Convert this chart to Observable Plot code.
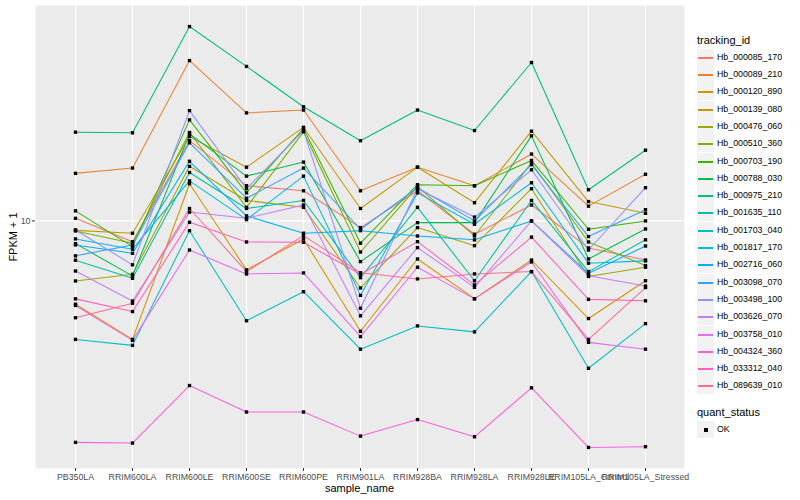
<!DOCTYPE html>
<html><head><meta charset="utf-8">
<script src="https://cdn.jsdelivr.net/npm/d3@7"></script>
<script src="https://cdn.jsdelivr.net/npm/@observablehq/plot@0.6"></script>
<style>
body{margin:0;background:#fff;font-family:"Liberation Sans",Arial,sans-serif;}
#wrap{position:relative;width:800px;height:500px;overflow:hidden;}
.t{position:absolute;white-space:nowrap;color:#000;line-height:1;}
.key{position:absolute;width:17px;height:17px;background:#F2F2F2;}
.key .ln{position:absolute;left:1px;right:1px;top:8px;height:1.5px;}
.lab{position:absolute;font-size:8.8px;color:#000;white-space:nowrap;line-height:1;}
</style></head><body><div id="wrap"></div>
<script>
const samples = ["PB350LA","RRIM600LA","RRIM600LE","RRIM600SE","RRIM600PE","RRIM901LA","RRIM928BA","RRIM928LA","RRIM928LE","RRIM105LA_Control","RRIM105LA_Stressed"];
const trackingIds = ["Hb_000085_170","Hb_000089_210","Hb_000120_890","Hb_000139_080","Hb_000476_060","Hb_000510_360","Hb_000703_190","Hb_000788_030","Hb_000975_210","Hb_001635_110","Hb_001703_040","Hb_001817_170","Hb_002716_060","Hb_003098_070","Hb_003498_100","Hb_003626_070","Hb_003758_010","Hb_004324_360","Hb_033312_040","Hb_089639_010"];
const palette = ["#F8766D","#EA8331","#D89000","#C09B00","#A3A500","#7CAE00","#39B600","#00BB4E","#00BF7D","#00C1A3","#00BFC4","#00BAE0","#00B0F6","#35A2FF","#9590FF","#C77CFF","#E76BF3","#FA62DB","#FF62BC","#FF6C91"];
const quantStatus = ["OK"];

// FPKM + 1 per sample (order of samples)
const hb_000085_170 = [10.2, 8.53, 18.5, 13.1, 12.6, 9.50, 12.6, 9.03, 11.3, 8.13, 7.41];
const hb_000089_210 = [14.4, 15.0, 34.2, 22.9, 23.4, 12.6, 15.1, 13.1, 16.7, 11.2, 14.3];
const hb_000120_890 = [5.28, 4.03, 13.3, 6.87, 8.71, 4.29, 7.47, 5.51, 7.41, 4.73, 6.32];
const hb_000139_080 = [9.30, 9.10, 19.1, 15.1, 20.5, 11.0, 15.1, 11.5, 19.9, 11.6, 10.6];
const hb_000476_060 = [6.31, 6.64, 15.2, 11.7, 11.1, 5.98, 9.50, 8.27, 12.8, 6.53, 7.01];
const hb_000510_360 = [9.26, 8.43, 19.7, 11.1, 19.8, 7.88, 13.0, 8.91, 15.6, 8.51, 7.10];
const hb_000703_190 = [10.8, 8.21, 21.7, 12.4, 20.3, 8.43, 13.2, 13.1, 15.9, 9.38, 10.0];
const hb_000788_030 = [8.40, 6.56, 19.5, 14.1, 15.7, 7.32, 9.87, 9.87, 19.2, 7.47, 9.40];
const hb_000975_210 = [19.75, 19.65, 44.4, 32.7, 24.0, 18.5, 23.4, 20.0, 33.7, 12.7, 17.2];
const hb_001635_110 = [7.40, 6.44, 14.5, 11.0, 11.7, 6.47, 11.1, 6.32, 11.7, 6.78, 8.65];
const hb_001703_040 = [4.03, 3.85, 9.28, 4.65, 5.81, 3.74, 4.47, 4.27, 6.78, 3.23, 4.55];
const hb_001817_170 = [8.71, 8.05, 13.6, 10.1, 14.1, 5.65, 12.4, 9.75, 13.4, 7.23, 7.36];
const hb_002716_060 = [8.32, 7.80, 15.8, 10.4, 9.10, 9.28, 8.91, 8.65, 10.0, 6.69, 8.25];
const hb_003098_070 = [7.65, 8.32, 18.2, 11.9, 15.0, 9.38, 12.9, 10.0, 15.4, 8.87, 10.9];
const hb_003498_100 = [9.33, 7.14, 23.3, 12.8, 20.0, 5.12, 12.8, 10.3, 14.8, 8.00, 12.9];
const hb_003626_070 = [6.81, 5.41, 10.7, 10.2, 11.3, 4.83, 8.15, 6.01, 10.0, 6.57, 6.07];
const hb_003758_010 = [5.23, 4.00, 8.00, 6.66, 6.71, 4.12, 7.01, 5.50, 7.30, 3.94, 3.74];
const hb_004324_360 = [1.83, 1.82, 2.83, 2.31, 2.31, 1.92, 2.18, 1.91, 2.78, 1.76, 1.77];
const hb_033312_040 = [5.50, 4.99, 9.90, 8.51, 8.49, 6.64, 8.53, 6.12, 8.83, 5.48, 5.42];
const hb_089639_010 = [4.76, 5.32, 11.0, 6.78, 8.93, 6.72, 6.41, 6.66, 6.78, 4.03, 6.00];

const yTicks = [10];

const seriesValues = [hb_000085_170, hb_000089_210, hb_000120_890, hb_000139_080, hb_000476_060, hb_000510_360, hb_000703_190, hb_000788_030, hb_000975_210, hb_001635_110, hb_001703_040, hb_001817_170, hb_002716_060, hb_003098_070, hb_003498_100, hb_003626_070, hb_003758_010, hb_004324_360, hb_033312_040, hb_089639_010];

const rows = [];
trackingIds.forEach((id, k) => seriesValues[k].forEach((v, i) => rows.push({tracking_id: id, sample_name: samples[i], fpkm1: v, quant_status: "OK"})));

const W = 800, H = 500, mL = 35, mR = 116, mT = 5, mB = 32;
// ggplot-like 5% expansion of the log range
const lo = d3.min(rows, d => Math.log10(d.fpkm1)), hi = d3.max(rows, d => Math.log10(d.fpkm1));
const ex = (hi - lo) * 0.05;

const chart = Plot.plot({
  width: W, height: H,
  marginLeft: mL, marginRight: mR, marginTop: mT, marginBottom: mB,
  style: {fontFamily: "'Liberation Sans', Arial, sans-serif", background: "white", overflow: "visible"},
  x: {type: "point", domain: samples, padding: 0.6, label: null},
  y: {type: "log", domain: [Math.pow(10, lo - ex), Math.pow(10, hi + ex)], label: null},
  color: {domain: trackingIds, range: palette},
  marks: [
    Plot.frame({fill: "#EBEBEB", stroke: null}),
    Plot.ruleX(samples, {x: d => d, stroke: "white", strokeWidth: 1.1}),
    Plot.ruleY(yTicks, {y: d => d, stroke: "white", strokeWidth: 1.1}),
    Plot.line(rows, {x: "sample_name", y: "fpkm1", z: "tracking_id", stroke: "tracking_id", strokeWidth: 1.05}),
    Plot.dot(rows, {x: "sample_name", y: "fpkm1", symbol: "square", fill: "black", stroke: null, r: 1.9}),
    Plot.axisX({tickSize: 3, tickPadding: 2, fontSize: 8.8, stroke: "#333333", fill: "#4D4D4D", label: null}),
    Plot.axisY({ticks: yTicks, tickFormat: d => String(d), tickSize: 3, tickPadding: 2, fontSize: 8.8, stroke: "#333333", fill: "#4D4D4D", label: null})
  ]
});

const wrap = document.getElementById("wrap");
wrap.appendChild(chart);

function addText(txt, left, top, size, extra) {
  const d = document.createElement("div");
  d.className = "t";
  d.textContent = txt;
  d.style.left = left + "px";
  d.style.top = top + "px";
  d.style.fontSize = size + "px";
  if (extra) Object.assign(d.style, extra);
  wrap.appendChild(d);
  return d;
}
// axis titles
addText("sample_name", (mL + W - mR) / 2, 488, 11, {transform: "translate(-50%,-50%)"});
addText("FPKM + 1", 13, (mT + H - mB) / 2, 11, {transform: "translate(-50%,-50%) rotate(-90deg)"});

// legend: tracking_id
addText("tracking_id", 697, 40, 11, {transform: "translateY(-50%)"});
trackingIds.forEach((id, i) => {
  const cy = Math.round(56.7 + 17.3 * i);
  const k = document.createElement("div");
  k.className = "key";
  k.style.left = "697px";
  k.style.top = (cy - 8) + "px";
  const ln = document.createElement("div");
  ln.className = "ln";
  ln.style.background = palette[i];
  k.appendChild(ln);
  wrap.appendChild(k);
  const l = document.createElement("div");
  l.className = "lab";
  l.textContent = id;
  l.style.left = "717px";
  l.style.top = cy + "px";
  l.style.transform = "translateY(-50%)";
  wrap.appendChild(l);
});
// legend: quant_status
addText("quant_status", 697, 412.3, 11, {transform: "translateY(-50%)"});
quantStatus.forEach((s, i) => {
  const cy = 429 + 17 * i;
  const k = document.createElement("div");
  k.className = "key";
  k.style.left = "697px";
  k.style.top = (cy - 8) + "px";
  const sq = document.createElement("div");
  sq.style.cssText = "position:absolute;left:6.5px;top:6.5px;width:4px;height:4px;background:#000;";
  k.appendChild(sq);
  wrap.appendChild(k);
  const l = document.createElement("div");
  l.className = "lab";
  l.textContent = s;
  l.style.left = "717px";
  l.style.top = cy + "px";
  l.style.transform = "translateY(-50%)";
  wrap.appendChild(l);
});
</script></body></html>
